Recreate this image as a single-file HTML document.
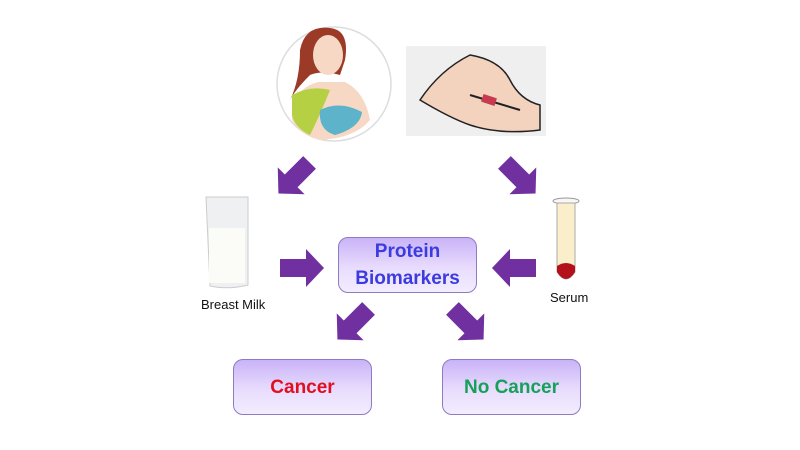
<!DOCTYPE html>
<html><head><meta charset="utf-8"><style>
body{margin:0;width:800px;height:450px;background:#fff;overflow:hidden;font-family:"Liberation Sans",sans-serif}
.box{position:absolute;border:1px solid #8e7cc3;border-radius:10px;background:linear-gradient(#c9b3f7,#e8dcfd 55%,#f3edfe);box-sizing:border-box;display:flex;align-items:center;justify-content:center;text-align:center;font-weight:bold;font-size:19px;line-height:27px}
.lbl{position:absolute;font-size:13px;color:#111}
</style></head><body>
<svg width="800" height="450" style="position:absolute;left:0;top:0">
<defs>
<polygon id="ar" points="-22,-9 4,-9 4,-19 22,0 4,19 4,9 -22,9" fill="#7030a0"/>
</defs>
<!-- mother -->
<circle cx="334" cy="84" r="57" fill="#fff" stroke="#ddd" stroke-width="1.5"/>
<path d="M300,50 Q305,25 330,28 Q350,30 345,60 L340,75 Q322,70 310,75 Q295,90 290,100 Q300,80 300,50Z" fill="#9b3a26"/>
<ellipse cx="328" cy="55" rx="15" ry="20" fill="#f6d8c4"/>
<path d="M292,120 Q290,90 318,82 L345,82 Q365,92 370,120 Q355,138 320,140 Q300,135 292,120Z" fill="#f6d8c4"/>
<path d="M292,95 Q310,85 330,90 Q320,115 310,135 Q295,128 292,115Z" fill="#b5d043"/>
<path d="M320,110 Q340,100 362,112 Q360,128 335,135 Q318,130 320,110Z" fill="#5db3c9"/>
<!-- hands -->
<rect x="406" y="46" width="140" height="90" fill="#efefef"/>
<path d="M420,100 Q440,70 470,55 Q500,60 510,80 Q520,100 540,105 L540,130 Q500,135 470,125 Q450,118 420,100Z" fill="#f3d3bd" stroke="#222" stroke-width="1.5"/>
<path d="M470,95 L520,110" stroke="#222" stroke-width="2"/>
<rect x="482" y="96" width="14" height="8" fill="#c83a50" transform="rotate(18 489 100)"/>
<!-- milk bag -->
<path d="M206,197 L248,197 L248,285 Q228,290 210,286 Z" fill="#eef0f2" stroke="#ccc"/>
<rect x="209" y="228" width="36" height="55" fill="#fbfbf7"/>
<!-- test tube -->
<ellipse cx="566" cy="201" rx="13" ry="3" fill="#f7f7f7" stroke="#999"/>
<path d="M557,203 L557,272 Q566,286 575,272 L575,203Z" fill="#fbeecb" stroke="#aaa"/>
<path d="M557,266 Q566,260 575,266 L575,272 Q566,286 557,272Z" fill="#b4101c"/>
<!-- arrows -->
<use href="#ar" transform="translate(294,178) rotate(135)"/>
<use href="#ar" transform="translate(520,178) rotate(45)"/>
<use href="#ar" transform="translate(302,268)"/>
<use href="#ar" transform="translate(514,268) rotate(180)"/>
<use href="#ar" transform="translate(353,324) rotate(135)"/>
<use href="#ar" transform="translate(468,324) rotate(45)"/>
</svg>
<div class="box" style="left:338px;top:237px;width:139px;height:56px;color:#3b3be0">Protein<br>Biomarkers</div>
<div class="box" style="left:233px;top:359px;width:139px;height:56px;color:#e01020">Cancer</div>
<div class="box" style="left:442px;top:359px;width:139px;height:56px;color:#16a05a">No Cancer</div>
<div class="lbl" style="left:201px;top:297px">Breast Milk</div>
<div class="lbl" style="left:550px;top:290px">Serum</div>
</body></html>
